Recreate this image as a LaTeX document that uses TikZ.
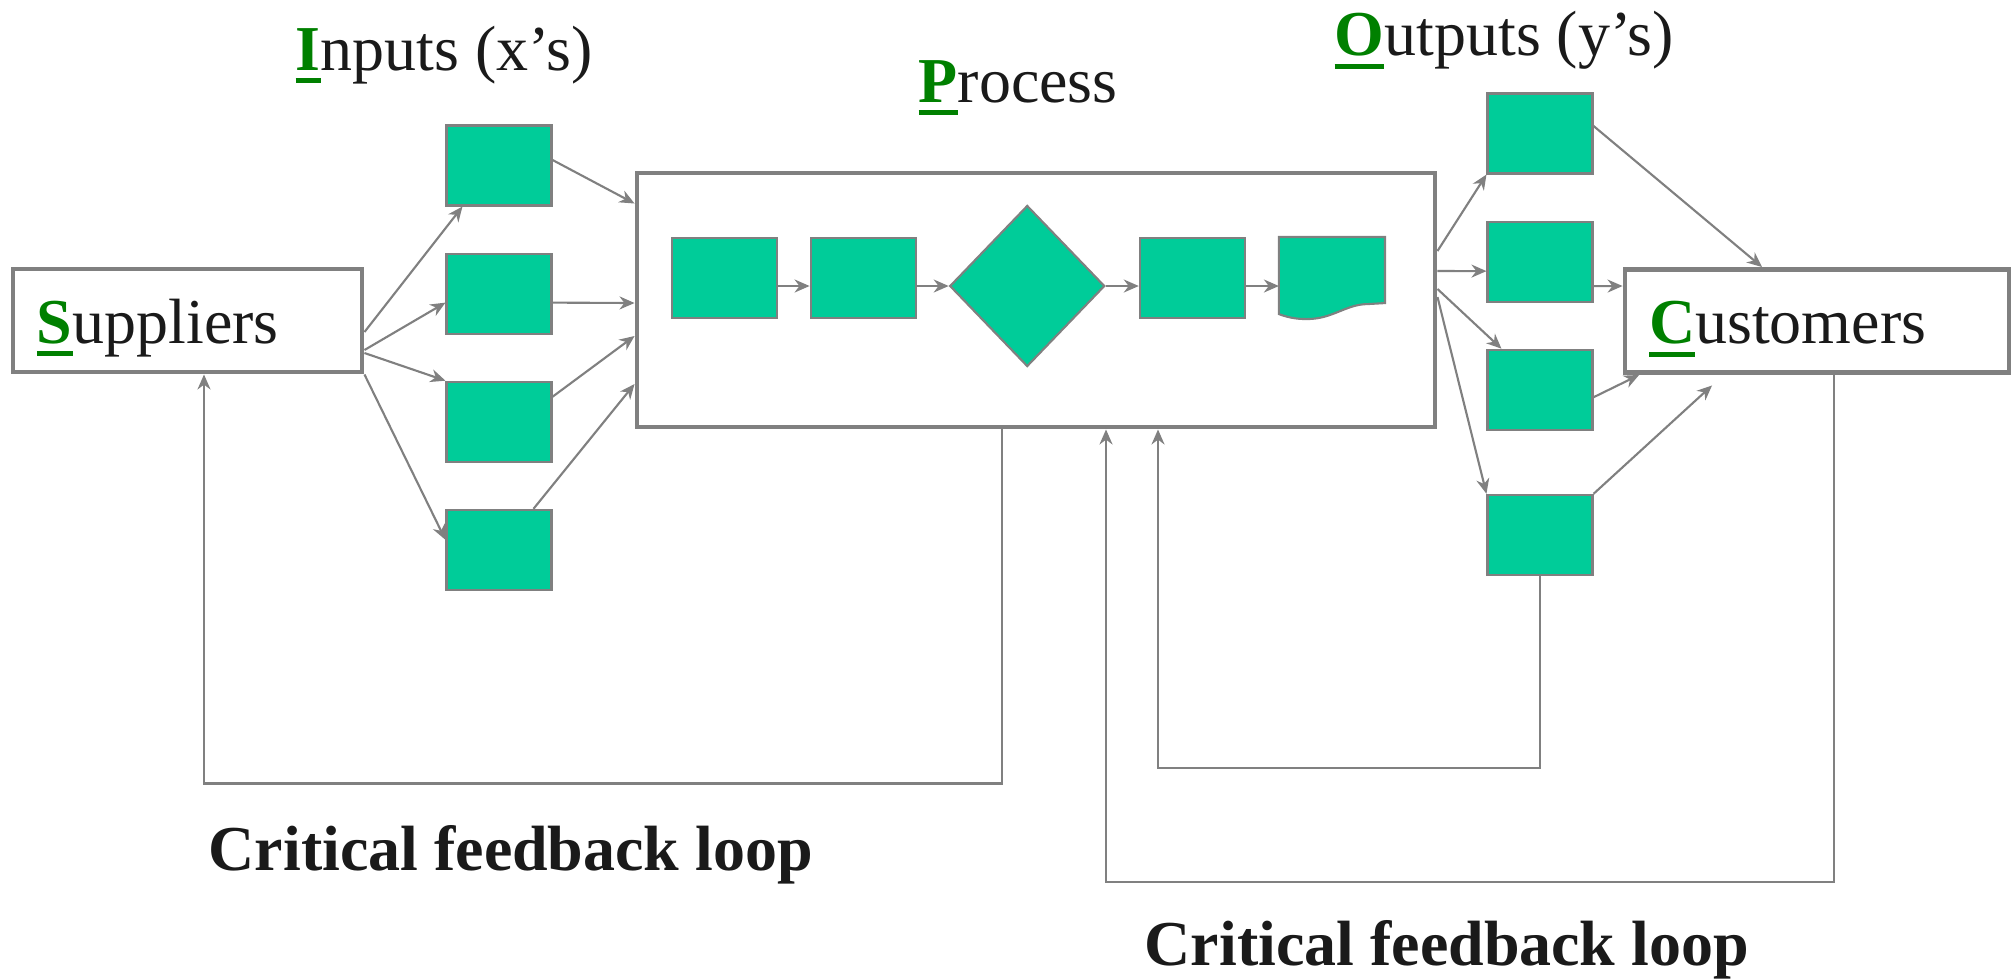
\documentclass[tikz,border=0pt]{standalone}
\usepackage{fontspec}
\setmainfont{Liberation Serif}
\usepackage{xcolor}
\usepackage{tikz}
\usetikzlibrary{positioning, arrows.meta, shapes.geometric}

\definecolor{linegray}{RGB}{128,128,128}
\definecolor{unitgreen}{RGB}{0,204,153}
\definecolor{initgreen}{RGB}{0,128,0}
\definecolor{textdark}{RGB}{26,26,26}
\newcommand{\keyletter}[1]{\textcolor{initgreen}{\setbox0\hbox{\bfseries #1}\rlap{\vrule height -.8mm depth 1.3mm width \wd0}\box0}}

\begin{document}
\begin{tikzpicture}[x=1mm, y=1mm, >={Stealth[length=1.5mm, width=1.3mm]},
  font=\fontsize{18.2}{22}\selectfont, text=textdark,
  frame/.style={draw=linegray, line width=1.4pt, inner sep=0pt},
  who/.style={frame, inner xsep=2.4mm, text height=5.2mm, text depth=.7mm, minimum height=10.3mm, align=left},
  unitfill/.style={draw=linegray, line width=.6pt, fill=unitgreen},
  unit/.style={unitfill, minimum width=10.5mm, minimum height=8mm, inner sep=0pt},
  flow/.style={->, draw=linegray, line width=.6pt},
  title/.style={anchor=base west, inner sep=0pt}]
\path[use as bounding box, fill=white] (0,0) rectangle (201.1,-97.8);
\node[who, text width=30.1mm] (sup) at (18.75,-32.05) {\keyletter{S}uppliers};
\node[who, text width=33.6mm] (cust) at (181.7,-32.1) {\keyletter{C}ustomers};
\node[frame, minimum width=79.8mm, minimum height=25.4mm] (proc) at (103.6,-30.0) {};
\node[unit] (in1) at (49.9,-16.55) {};
\node[unit, below=4.6mm of in1] (in2) {};
\node[unit, below=4.6mm of in2] (in3) {};
\node[unit, below=4.6mm of in3] (in4) {};
\node[unit] (out1) at (154.0,-13.35) {};
\node[unit, below=4.6mm of out1] (out2) {};
\node[unit, below=4.6mm of out2] (out3) {};
\node[unit, below=6.3mm of out3] (out4) {};
\node[unit] (pa) at (72.45,-27.8) {};
\node[unit, right=3.15mm of pa] (pb) {};
\node[unitfill, diamond, inner sep=0pt, minimum width=15.5mm, minimum height=16.1mm, right=3.2mm of pb, yshift=-.8mm] (pd) {};
\node[unit, right=3.3mm of pd, yshift=.8mm] (pc) {};
\node[unit, draw=none, fill=none, minimum width=10.4mm, right=3.3mm of pc] (pdoc) {};
\filldraw[unitfill] (pdoc.north west) -- (pdoc.north east) -- ([yshift=1.6mm]pdoc.south east) -- ++(-1.7,-.1)
  .. controls +(-2.2,0) and +(2.6,0) .. ([xshift=2.8mm]pdoc.south west)
  .. controls +(-1.2,0) and +(.8,-.3) .. ([yshift=.5mm]pdoc.south west) -- cycle;
\foreach \a/\b in {pa/pb, pb/pd, pd/pc, pc/pdoc}
  \draw[flow] (\a.east |- pd) -- (\b.west |- pd);
\node[title] (tin) at (29.5,-7.0) {\keyletter{I}nputs (x’s)};
\node[title] (tproc) at (91.8,-10.2) {\keyletter{P}rocess};
\node[title] (tout) at (133.4,-5.55) {\keyletter{O}utputs (y’s)};
\draw[flow] ([yshift=-1.15mm]sup.east) -- ([xshift=1.7mm]in1.south west);
\draw[flow] ([yshift=-2.95mm]sup.east) -- ([yshift=-.9mm]in2.west);
\draw[flow] ([yshift=-3.25mm]sup.east) -- (in3.north west);
\draw[flow] (sup.south east) -- ([yshift=1mm]in4.west);
\draw[flow] ([yshift=.55mm]in1.east) -- ([yshift=9.65mm]proc.west);
\draw[flow] ([yshift=-.9mm]in2.east) -- ([yshift=-.3mm]proc.west);
\draw[flow] ([yshift=2.5mm]in3.east) -- ([yshift=-3.6mm]proc.west);
\draw[flow] ([xshift=3.45mm]in4.north) -- ([yshift=-8.4mm]proc.west);
\draw[flow] ([yshift=4.9mm]proc.east) -- (out1.south west);
\draw[flow] ([yshift=2.9mm]proc.east) -- ([yshift=-.95mm]out2.west);
\draw[flow] ([yshift=1.1mm]proc.east) -- ([xshift=1.5mm]out3.north west);
\draw[flow] ([yshift=.3mm]proc.east) -- (out4.north west);
\draw[flow] ([yshift=.75mm]out1.east) -- ([xshift=-5.5mm]cust.north);
\draw[flow] ([yshift=-2.45mm]out2.east) -- ([yshift=3.5mm]cust.west);
\draw[flow] ([yshift=-.75mm]out3.east) -- ([xshift=1.65mm]cust.south west);
\draw[flow] (out4.north east) -- ([xshift=-10.5mm, yshift=-1.05mm]cust.south);
\draw[flow] ([xshift=-3.4mm]proc.south) -- ++(0,-35.4) -| ([xshift=1.65mm]sup.south);
\draw[flow] (out4.south) -- ++(0,-19.2) -| ([xshift=12.2mm]proc.south);
\draw[flow] ([xshift=1.7mm]cust.south) -- ++(0,-50.7) -| ([xshift=7mm]proc.south);
\node[title] (fb1) at (20.8,-87.0) {\bfseries Critical feedback loop};
\node[title] (fb2) at (114.4,-96.5) {\bfseries Critical feedback loop};
\end{tikzpicture}
\end{document}
